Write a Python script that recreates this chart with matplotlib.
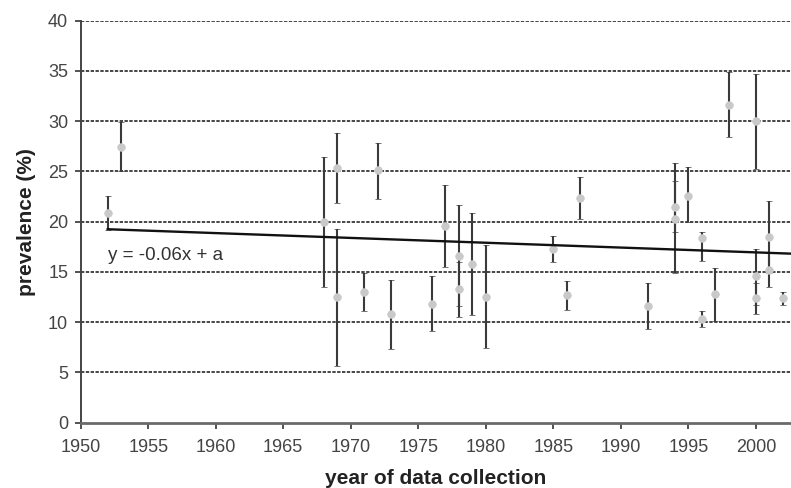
"""
Prevalence by year of data collection, with error bars and linear trend.
"""
import matplotlib
matplotlib.use("Agg")
matplotlib.rcParams["font.family"] = ["Liberation Sans", "DejaVu Sans"]

import matplotlib.pyplot as plt
import numpy as np

# study year, prevalence (%), lower and upper error-bar bounds
years = [1952, 1953, 1968, 1969, 1969, 1971, 1972, 1973, 1976, 1977, 1978,
         1978, 1979, 1980, 1985, 1986, 1987, 1992, 1994, 1994, 1995, 1996,
         1996, 1997, 1998, 2000, 2000, 2000, 2001, 2001, 2002]
prevalence = [20.9, 27.4, 20.0, 25.3, 12.5, 13.0, 25.1, 10.8, 11.8, 19.6, 16.6,
              13.3, 15.8, 12.5, 17.3, 12.7, 22.4, 11.6, 21.5, 20.3, 22.6, 18.4,
              10.3, 12.8, 31.6, 30.0, 14.6, 12.4, 18.5, 15.2, 12.4]
lower = [19.2, 25.0, 13.5, 21.9, 5.6, 11.1, 22.3, 7.3, 9.1, 15.5, 11.6,
         10.5, 10.7, 7.4, 16.0, 11.2, 20.3, 9.3, 19.0, 14.9, 20.0, 16.1,
         9.5, 10.1, 28.4, 25.2, 11.7, 10.8, 14.9, 13.5, 11.7]
upper = [22.6, 29.9, 26.4, 28.8, 19.3, 14.9, 27.8, 14.2, 14.6, 23.7, 21.7,
         16.0, 20.9, 17.7, 18.6, 14.1, 24.4, 13.9, 24.0, 25.8, 25.4, 19.0,
         11.1, 15.4, 34.9, 34.7, 17.3, 13.9, 22.1, 16.9, 13.0]

# fitted trend as drawn (start year, value there, slope per year)
trend_start = 1952
trend_value = 19.25
trend_slope = -0.048
trend_label = "y = -0.06x + a"

x_ticks = list(range(1950, 2001, 5))
y_ticks = list(range(0, 41, 5))
x_max = 2002.6

years = np.array(years)
prevalence = np.array(prevalence)
yerr = np.vstack([prevalence - np.array(lower), np.array(upper) - prevalence])

fig = plt.figure(figsize=(7.91, 4.88), dpi=100)
fig.patch.set_facecolor("white")
ax = fig.add_axes([0.102, 0.1338, 0.898, 0.8238])

# dotted horizontal gridlines
for yv in y_ticks[1:]:
    ax.axhline(yv, color="#262626", linewidth=1.2, linestyle=(0, (2.0, 0.9)), zorder=1)

ax.errorbar(years, prevalence, yerr=yerr, fmt="o", color="#c9c9c9",
            markersize=5.5, markeredgecolor="#c9c9c9", markeredgewidth=0.5,
            ecolor="#3a3a3a", elinewidth=1.5, capsize=2.4, capthick=1.6, zorder=3)

tx = np.array([trend_start, x_max])
ax.plot(tx, trend_value + trend_slope * (tx - trend_start),
        color="#111111", linewidth=1.7, zorder=4)
ax.text(trend_start, 16.6, trend_label, fontsize=13.5, color="#333333",
        ha="left", va="center", zorder=5)

ax.set_xlim(1950, x_max)
ax.set_ylim(0, 40)
ax.set_xticks(x_ticks)
ax.set_yticks(y_ticks)
ax.tick_params(axis="both", labelsize=13, labelcolor="#444444", color="#444444",
               direction="out", length=4, width=1.3)
ax.tick_params(axis="x", pad=8)
ax.tick_params(axis="y", pad=5)

ax.spines["top"].set_visible(False)
ax.spines["right"].set_visible(False)
ax.spines["left"].set_color("#444444")
ax.spines["left"].set_linewidth(1.4)
ax.spines["bottom"].set_color("#6a6a6a")
ax.spines["bottom"].set_linewidth(2.0)

fig.text(0.5 * (0.102 + 1.0), 1 - 478 / 488, "year of data collection",
         fontsize=15, fontweight="bold", color="#222222", ha="center", va="center")
fig.text(27 / 791, 1 - 222 / 488, "prevalence (%)", rotation=90,
         fontsize=15, fontweight="bold", color="#222222", ha="center", va="center")

fig.savefig("out.png", dpi=100)
plt.close(fig)
